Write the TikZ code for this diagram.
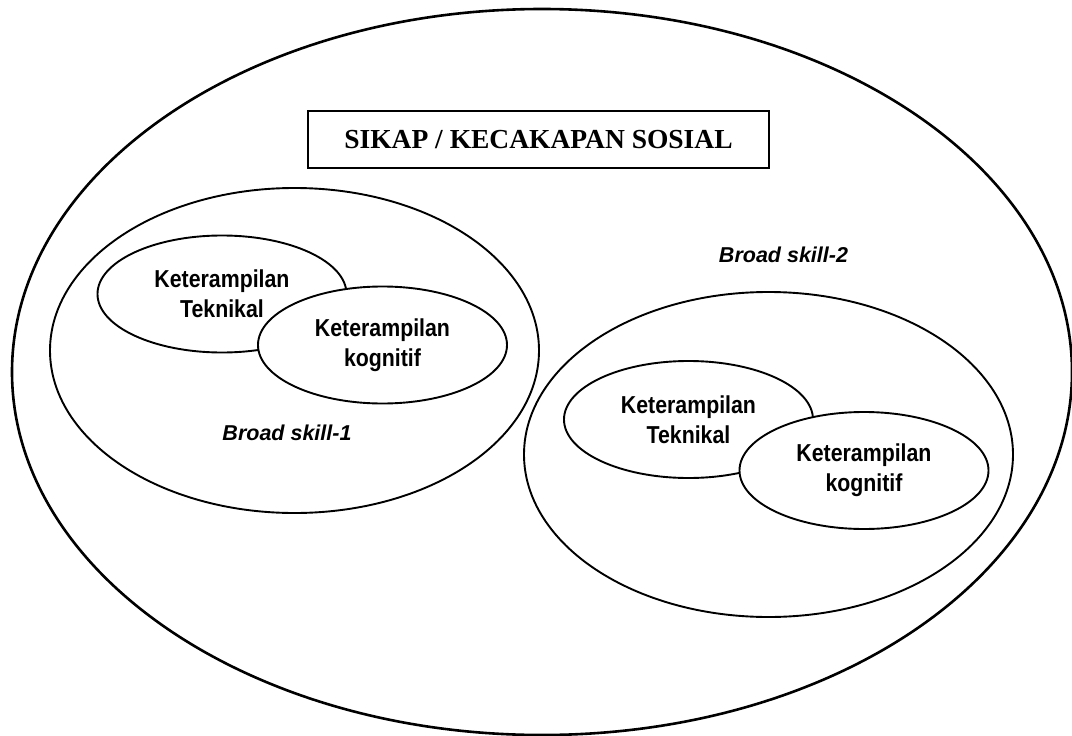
\documentclass[tikz,border=0pt]{standalone}
\usepackage{fontspec}
\setmainfont{Liberation Serif}
\newfontfamily\skillfont[FakeStretch=0.87]{Liberation Sans}
\newfontfamily\broadfont{Liberation Sans}
\usetikzlibrary{shapes.geometric}

\begin{document}
\begin{tikzpicture}[x=1pt, y=-1pt, every node/.style={inner sep=0pt},
    ring/.style={draw, ellipse, line width=1.9pt, minimum width=489pt, minimum height=325pt},
    skill/.style={draw, ellipse, fill=white, line width=1.9pt, minimum width=249pt, minimum height=117pt,
        align=center, font=\skillfont\bfseries\fontsize{24.5}{30}\selectfont},
    broad/.style={font=\broadfont\bfseries\itshape\fontsize{21.5}{26}\selectfont}]
        \useasboundingbox (0,0) rectangle (1072,736);

        \node[draw, ellipse, line width=2.6pt, minimum width=1060pt, minimum height=726pt] (S) at (542,372) {}; % Outer ring
        \node[draw, line width=2pt, minimum width=461pt, minimum height=57pt,
            font=\bfseries\fontsize{27.5}{33}\selectfont] (T) at (538.5,139.5) {SIKAP / KECAKAPAN SOSIAL}; % Title box

        % Broad skill 1
        \node[ring] (L) at (294.5,350.5) {};
        \node[skill] (L1) at (222,294) {Keterampilan\\Teknikal};
        \node[skill] (L2) at (382.5,345) {Keterampilan\\kognitif};
        \node[broad] (LB) at (287,433) {Broad skill-1};

        % Broad skill 2
        \node[ring] (R) at (768.5,454.5) {};
        \node[skill] (R1) at (688.5,419.5) {Keterampilan\\Teknikal};
        \node[skill] (R2) at (864,470.5) {Keterampilan\\kognitif};
        \node[broad] (RB) at (783.5,255) {Broad skill-2};
\end{tikzpicture}
\end{document}
